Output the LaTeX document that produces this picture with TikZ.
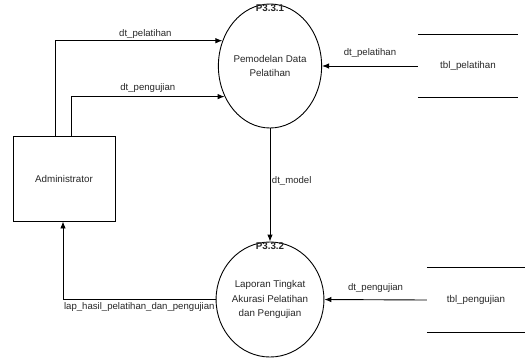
\documentclass[tikz,border=0pt]{standalone}
\usepackage{fontspec}
\setmainfont{Liberation Sans}
\usetikzlibrary{shapes.geometric,arrows.meta}
\tikzset{
  flow/.style={draw,line width=0.9bp,-{Latex[length=7bp,width=5.5bp]}},
  proc/.style={draw,ellipse,line width=0.9bp,minimum width=95bp,align=center,inner sep=0pt},
  entity/.style={draw,rectangle,line width=0.9bp,minimum width=102bp,minimum height=85bp},
  store/.style={rectangle,minimum height=63bp},
  lbl/.style={font=\fontsize{9.6bp}{11bp}\selectfont,inner sep=2bp},
}
\begin{document}
\begin{tikzpicture}[x=1bp,y=-1bp,font=\fontsize{9.8bp}{14.5bp}\selectfont,text=black!85]
\useasboundingbox (0,0) rectangle (525,358);
% processes
\node[proc,minimum height=124bp] (p1) at (270,66) {Pemodelan Data\\Pelatihan};
\node[proc,minimum height=115bp] (p2) at (270,299.5) {Laporan Tingkat\\Akurasi Pelatihan\\dan Pengujian};
\node[anchor=north,inner sep=1bp,font=\fontsize{9.8bp}{11bp}\bfseries] (p1id) at (p1.north) {P3.3.1};
\node[anchor=north,inner sep=1bp,font=\fontsize{9.8bp}{11bp}\bfseries] (p2id) at (p2.north) {P3.3.2};
% external entity
\node[entity] (admin) at (64,178.5) {Administrator};
% data stores
\node[store,minimum width=100bp] (tblpel) at (468,66) {tbl\_pelatihan};
\draw[line width=0.9bp] (tblpel.north west) -- (tblpel.north east);
\draw[line width=0.9bp] (tblpel.south west) -- (tblpel.south east);
\node[store,minimum width=98bp,minimum height=64bp] (tblpeng) at (476,300) {tbl\_pengujian};
\draw[line width=0.9bp] (tblpeng.north west) -- (tblpeng.north east);
\draw[line width=0.9bp] (tblpeng.south west) -- (tblpeng.south east);
% flows
\draw[flow] ([xshift=-9bp]admin.north) |- (p1.152) node[lbl,above,pos=0.77] {dt\_pelatihan};
\draw[flow] ([xshift=7bp]admin.north) |- (p1.214) node[lbl,above=2bp,pos=0.75] {dt\_pengujian};
\draw[flow] (tblpel.west) -- (p1.east) node[lbl,above=6bp,midway] {dt\_pelatihan};
\draw[flow] (p1.south) -- (p2.north) node[lbl,right,inner sep=1.5bp,pos=0.46] {dt\_model};
\draw[flow] (tblpeng.west) -- (p2.east) node[lbl,above=5bp,midway] {dt\_pengujian};
\draw[flow] (p2.west) -| ([xshift=-1bp]admin.south) node[lbl,below=1bp,pos=0.25] {lap\_hasil\_pelatihan\_dan\_pengujian};
\end{tikzpicture}
\end{document}
